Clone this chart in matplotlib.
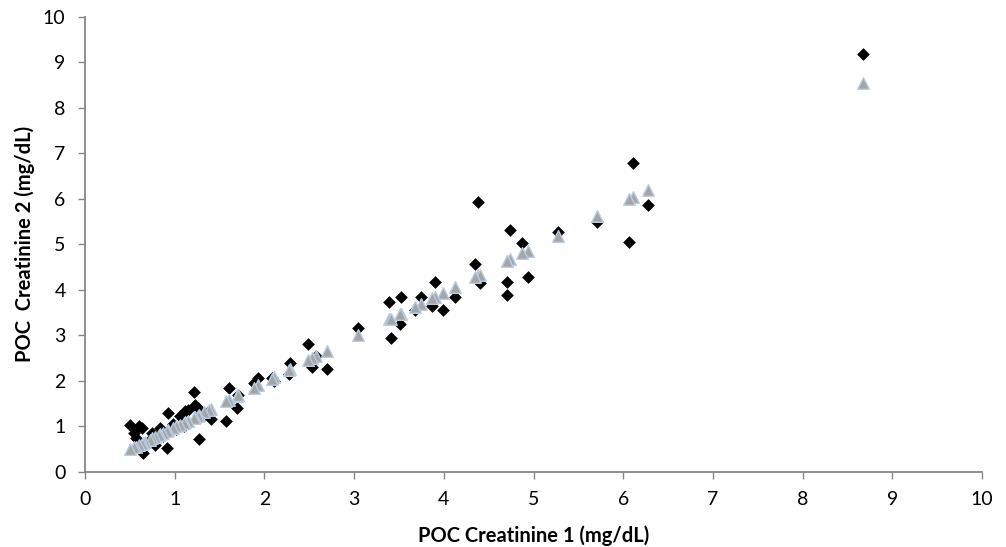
import matplotlib
matplotlib.use("Agg")
import matplotlib.pyplot as plt

# x = POC Creatinine 1, y_meas = POC Creatinine 2 (diamonds), y_fit = grey triangles
x_vals = [8.67, 6.28, 6.11, 6.07, 5.71, 5.27, 4.94, 4.87, 4.74, 4.70, 4.70, 4.38, 4.40, 4.35,
          4.12, 3.99, 3.90, 3.87, 3.75, 3.68, 3.52, 3.51, 3.39, 3.41, 3.04, 2.70, 2.58, 2.53,
          2.49, 2.29, 2.27, 2.11, 2.08, 1.93, 1.88, 1.69, 1.71, 1.60, 1.57, 1.40, 1.38, 1.33,
          1.27, 1.26, 1.23, 1.21, 1.15, 1.11, 1.10, 1.06, 1.02, 0.98, 0.93, 0.91, 0.87, 0.84,
          0.82, 0.78, 0.75, 0.72, 0.67, 0.65, 0.63, 0.60, 0.57, 0.55, 0.50]
y_meas = [9.19, 5.87, 6.78, 5.06, 5.50, 5.27, 4.29, 5.04, 5.32, 4.18, 3.89, 5.92, 4.15, 4.56,
          3.84, 3.56, 4.17, 3.65, 3.84, 3.56, 3.85, 3.25, 3.73, 2.95, 3.16, 2.26, 2.55, 2.30,
          2.81, 2.40, 2.15, 2.00, 2.07, 2.06, 1.95, 1.40, 1.70, 1.84, 1.13, 1.16, 1.35, 1.25,
          0.72, 1.40, 1.47, 1.75, 1.36, 1.33, 1.00, 1.22, 0.95, 1.05, 1.29, 0.52, 0.80, 0.96,
          0.78, 0.59, 0.85, 0.70, 0.62, 0.41, 0.96, 1.00, 0.75, 0.85, 1.03]
y_fit = [8.55, 6.20, 6.03, 5.99, 5.63, 5.19, 4.86, 4.80, 4.67, 4.64, 4.63, 4.32, 4.33, 4.29,
         4.06, 3.94, 3.85, 3.82, 3.70, 3.63, 3.47, 3.46, 3.35, 3.36, 3.00, 2.66, 2.55, 2.50,
         2.46, 2.26, 2.24, 2.08, 2.05, 1.90, 1.85, 1.67, 1.69, 1.58, 1.55, 1.38, 1.36, 1.31,
         1.25, 1.24, 1.21, 1.19, 1.13, 1.09, 1.08, 1.04, 1.00, 0.97, 0.92, 0.90, 0.86, 0.83,
         0.81, 0.77, 0.74, 0.71, 0.66, 0.64, 0.62, 0.59, 0.56, 0.54, 0.50]

x_ticks = list(range(0, 11))
y_ticks = list(range(0, 11))

plt.rcParams['font.family'] = ['Lato', 'DejaVu Sans']

fig = plt.figure(figsize=(10.06, 5.47), dpi=100)
ax = fig.add_axes([85/1006, 75/547, (982-85)/1006, (472-16.7)/547])

ax.scatter(x_vals, y_meas, marker='D', s=42, color='black', zorder=3, linewidths=0)
ax.scatter(x_vals, y_fit, marker='^', s=70, facecolor='#a5a5a5', edgecolor='#b8cce4',
           linewidths=1.0, zorder=4)

ax.set_xlim(0, 10)
ax.set_ylim(0, 10)
ax.set_xticks(x_ticks)
ax.set_yticks(y_ticks)
ax.tick_params(axis='both', direction='out', length=5, width=1, color='#868686',
               labelsize=14, labelcolor='black', pad=9)
for side in ['top', 'right']:
    ax.spines[side].set_visible(False)
for side in ['left', 'bottom']:
    ax.spines[side].set_color('#868686')
    ax.spines[side].set_linewidth(1.3)

ax.set_xlabel('POC Creatinine 1 (mg/dL)', fontsize=14.5, fontweight='bold', labelpad=12)
ax.set_ylabel('POC  Creatinine 2 (mg/dL)', fontsize=14.5, fontweight='bold', labelpad=6)

fig.savefig('out.png', dpi=100)
